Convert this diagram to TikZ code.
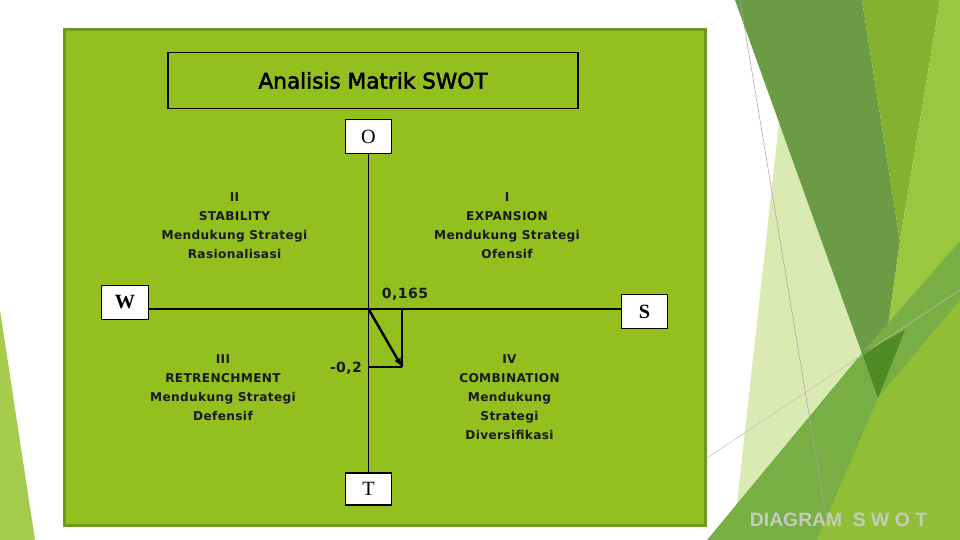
\documentclass[tikz,border=0pt]{standalone}
\usepackage{fontspec}
\setmainfont{Liberation Serif}
\newfontfamily\quadfont[LetterSpace=3]{DejaVu Sans}
\newfontfamily\titlefont[FakeBold=2.5]{DejaVu Sans}
\newfontfamily\footfont{Liberation Sans}
\usepackage{tikz}
\usetikzlibrary{arrows.meta}
\usetikzlibrary{positioning}
\definecolor{panelgreen}{HTML}{93C01F}
\definecolor{paneledge}{HTML}{6E991E}
\definecolor{facetdark}{HTML}{6B9B45}
\definecolor{facetmid}{HTML}{84B22E}
\definecolor{facetlight}{HTML}{99C73F}
\definecolor{facetpale}{HTML}{D9EAB3}
\definecolor{facetbottom}{HTML}{77AF45}
\definecolor{facetlime}{HTML}{90BF36}
\definecolor{facetdeep}{HTML}{4E8B24}
\definecolor{facetleft}{HTML}{A6CC4E}
\definecolor{footgray}{HTML}{C6CBBC}
\tikzset{
    letterbox/.style={
        draw,
        fill=white,
        line width=0.6pt,
        minimum width=0.93cm,
        minimum height=0.69cm,
        inner sep=0pt,
        font=\fontsize{11.5}{12}\selectfont
    },
    quadtext/.style={
        align=center,
        inner sep=0pt,
        text=black!90,
        font=\quadfont\bfseries\fontsize{6.9}{10.8}\selectfont
    },
    valuetext/.style={
        inner sep=0pt,
        text=black!90,
        font=\quadfont\bfseries\fontsize{8}{9}\selectfont
    }
}

\begin{document}
\begin{tikzpicture}[x=0.02cm, y=-0.02cm]
    \useasboundingbox (0,0) rectangle (960,540);
    % Background facets
    \fill[facetleft] (0,310) -- (35,540) -- (0,540) -- cycle;
    \fill[facetpale] (780,114) -- (862,353) -- (733,540) -- cycle;
    \fill[facetdark] (735,0) -- (862,0) -- (900,241) -- (878,398) -- cycle;
    \fill[facetmid] (862,0) -- (940,0) -- (900,241) -- cycle;
    \fill[facetlight] (940,0) -- (960,0) -- (960,540) -- (878,398) -- (900,241) -- cycle;
    \fill[facetbottom] (707,540) -- (862,353) -- (960,241) -- (960,540) -- cycle;
    \fill[facetlime] (817,540) -- (878,398) -- (960,300) -- (960,540) -- cycle;
    \fill[facetdeep] (862,353) -- (905,330) -- (878,398) -- cycle;
    \draw[gray!70, line width=0.3pt] (740,0) -- (830,540);
    \draw[gray!50, line width=0.3pt] (707,458) -- (960,290);

    % Panel
    \draw[fill=panelgreen, draw=paneledge, line width=1.7pt] (64.5,29.5) rectangle (705.5,525.5);

    % Title
    \node[draw, line width=1.1pt, minimum width=8.2cm, minimum height=1.12cm,
          font=\titlefont\fontsize{12.3}{13}\selectfont] (title) at (373,80.5) {Analisis Matrik SWOT};

    % Axis boxes
    \node[letterbox] (O) at (368.5,136.5) {O};
    \node[letterbox, minimum height=0.64cm] (T) at (368.5,489) {T};
    \node[letterbox, font=\bfseries\fontsize{11.5}{12}\selectfont] (W) at (125,302.5) {W};
    \node[letterbox, font=\bfseries\fontsize{11.5}{12}\selectfont] (S) at (644.5,311.5) {S};
    \coordinate (orig) at (368.5,309);
    \coordinate (pos) at (402,367);

    % Axes
    \draw[line width=0.85pt] (O) -- (T);
    \draw[line width=0.85pt] (W.east |- orig) -- (S.west |- orig);

    % Position
    \draw[line width=0.6pt] (orig -| pos) -- (pos);
    \draw[line width=0.6pt] (orig |- pos) -- (pos);
    \draw[line width=1.4pt, -{Latex[length=5pt, width=4pt]}] (orig) -- (pos);
    \node[valuetext] (xval) at (405,294) {0,165};
    \node[valuetext] (yval) at (346,368) {-0,2};

    % Quadrants
    \node[quadtext] (q1) at (507,226) {I\\EXPANSION\\Mendukung Strategi\\Ofensif};
    \node[quadtext] (q2) at (234.5,226) {II\\STABILITY\\Mendukung Strategi\\Rasionalisasi};
    \node[quadtext] (q3) at (223,388) {III\\RETRENCHMENT\\Mendukung Strategi\\Defensif};
    \node[quadtext] (q4) at (509.5,397.5) {IV\\COMBINATION\\Mendukung\\Strategi\\Diversifikasi};

    % Footer
    \node[text=footgray, inner sep=0pt, font=\footfont\bfseries\fontsize{11}{12}\selectfont] (foot) at (838.5,520) {DIAGRAM\ \ S W O T};
\end{tikzpicture}
\end{document}
